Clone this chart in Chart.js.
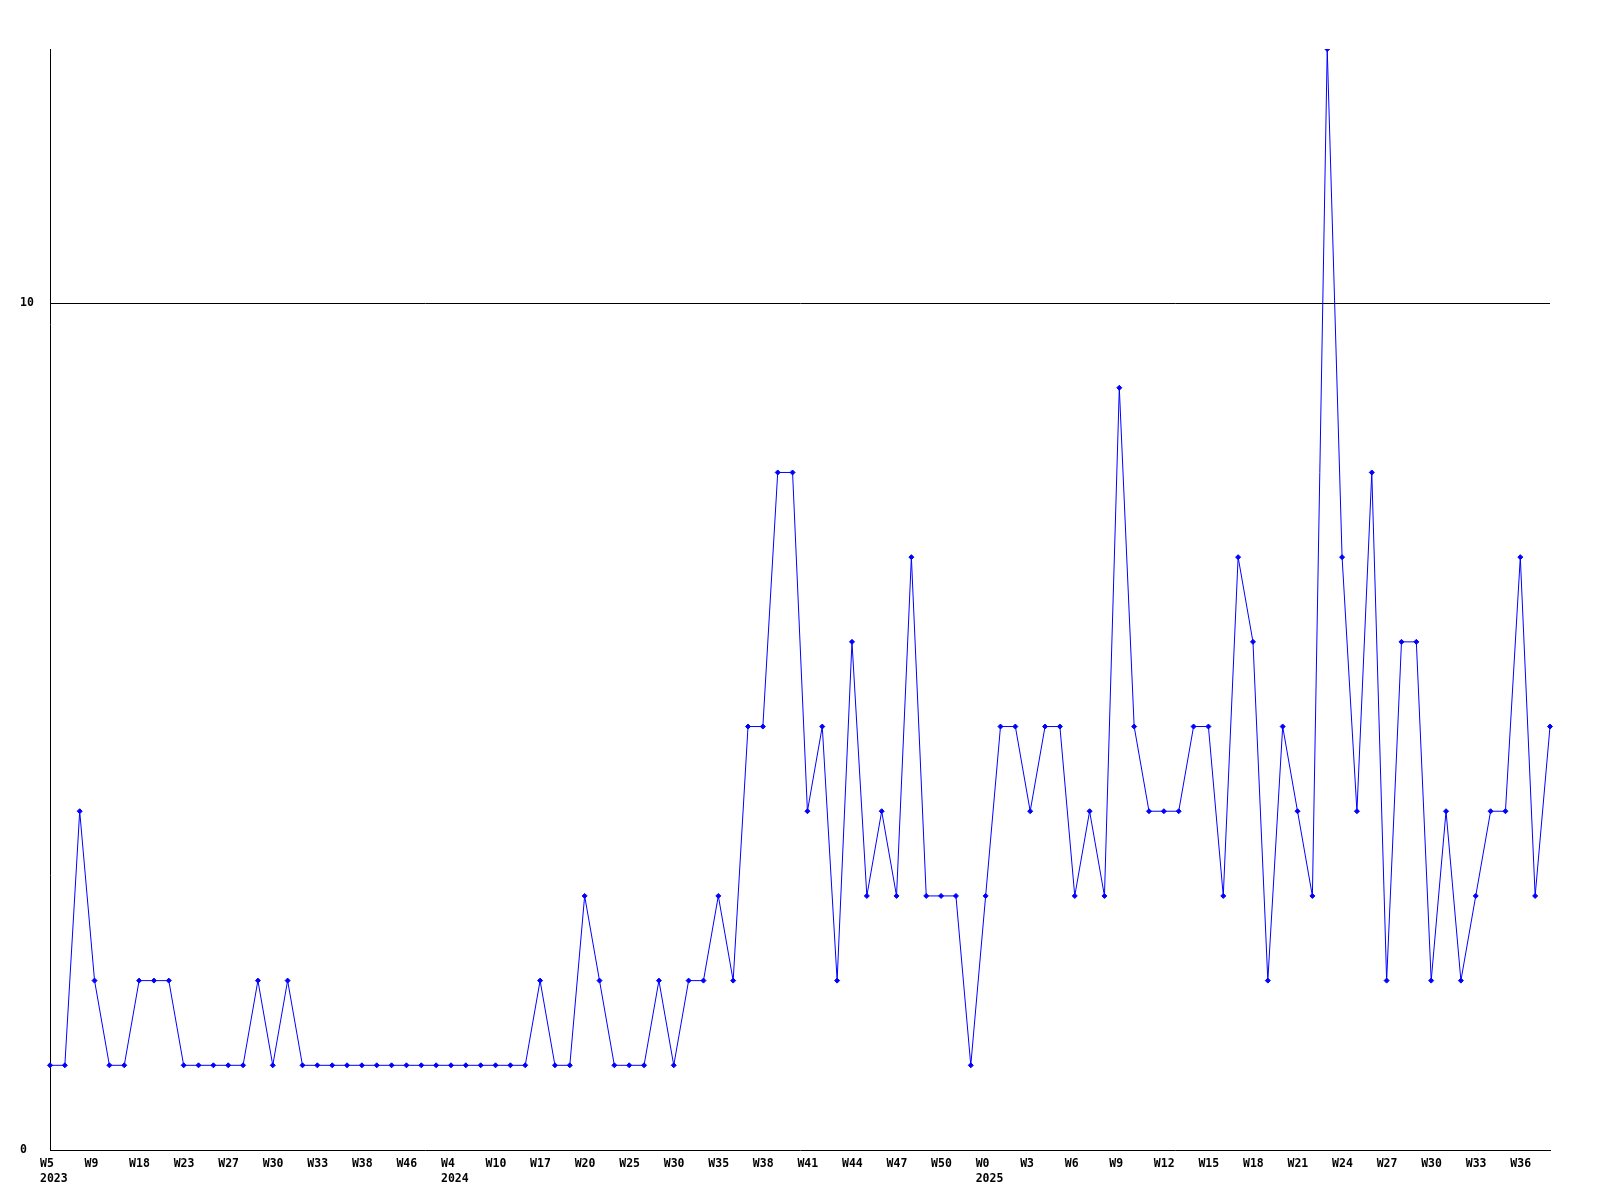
<!DOCTYPE html>
<html>
<head>
<meta charset="utf-8">
<script src="https://cdn.jsdelivr.net/npm/chart.js@4/dist/chart.umd.min.js"></script>
<style>
  html, body { margin: 0; padding: 0; background: #ffffff; }
  #wrap { width: 1600px; height: 1200px; }
</style>
</head>
<body>
<div id="wrap"><canvas id="chart" width="1600" height="1200"></canvas></div>
<script>
/* weekly counts, one value per week point */

const values = [
    1, 1, 4, 2, 1, 1, 2, 2, 2, 1,
    1, 1, 1, 1, 2, 1, 2, 1, 1, 1,
    1, 1, 1, 1, 1, 1, 1, 1, 1, 1,
    1, 1, 1, 2, 1, 1, 3, 2, 1, 1,
    1, 2, 1, 2, 2, 3, 2, 5, 5, 8,
    8, 4, 5, 2, 6, 3, 4, 3, 7, 3,
    3, 3, 1, 3, 5, 5, 4, 5, 5, 3,
    4, 3, 9, 5, 4, 4, 4, 5, 5, 3,
    7, 6, 2, 5, 4, 3, 13, 7, 4, 8,
    2, 6, 6, 2, 4, 2, 3, 4, 4, 7,
    3, 5,
];

// x tick labels, one every 3 points
const weekTicks = [
    'W5', 'W9', 'W18', 'W23', 'W27', 'W30', 'W33', 'W38', 'W46', 'W4',
    'W10', 'W17', 'W20', 'W25', 'W30', 'W35', 'W38', 'W41', 'W44', 'W47',
    'W50', 'W0', 'W3', 'W6', 'W9', 'W12', 'W15', 'W18', 'W21', 'W24',
    'W27', 'W30', 'W33', 'W36',
];
const yearTicks = { 0: '2023', 9: '2024', 21: '2025' };
const TICK_EVERY = 3;

const yTicks = [0, 10];
const Y_MAX = 13;

const FONT = { family: "'DejaVu Sans Mono', 'Liberation Mono', monospace", size: 11.5, weight: 'bold', lineHeight: 1.35 };

const labels = values.map((v, i) => {
    if (i % TICK_EVERY !== 0) return '';
    const k = i / TICK_EVERY;
    const w = weekTicks[k];
    if (w === undefined) return '';
    return yearTicks[k] ? [w, yearTicks[k]] : w;
});

new Chart(document.getElementById('chart'), {
    type: 'line',
    data: {
        labels: labels,
        datasets: [{
            data: values,
            borderColor: '#0000ff',
            backgroundColor: '#0000ff',
            borderWidth: 1,
            tension: 0,
            fill: false,
            pointStyle: 'rectRot',
            pointRadius: 2.5,
            pointBorderWidth: 1,
            pointBackgroundColor: '#0000ff',
            pointBorderColor: '#0000ff',
        }],
    },
    options: {
        responsive: false,
        animation: false,
        layout: { padding: { left: 20, right: 50, top: 49, bottom: 0 } },
        scales: {
            x: {
                type: 'category',
                offset: false,
                grid: { display: false, drawTicks: false },
                border: { display: true, color: '#000000', width: 1 },
                ticks: {
                    autoSkip: false,
                    maxRotation: 0,
                    minRotation: 0,
                    align: 'start',
                    labelOffset: -10,
                    padding: 6,
                    color: '#000000',
                    font: FONT,
                },
                afterFit: s => { s.height = 50; },
            },
            y: {
                min: 0,
                max: Y_MAX,
                grid: {
                    drawTicks: false,
                    color: ctx => ctx.tick && ctx.tick.value === 10 ? '#000000' : 'rgba(0,0,0,0)',
                    lineWidth: 1,
                },
                border: { display: true, color: '#000000', width: 1 },
                ticks: {
                    crossAlign: 'far',
                    padding: 0,
                    color: '#000000',
                    font: FONT,
                },
                afterBuildTicks: s => { s.ticks = yTicks.map(v => ({ value: v })); },
                afterFit: s => { s.width = 30; },
            },
        },
        plugins: {
            legend: { display: false },
            tooltip: { enabled: false },
        },
    },
});
</script>
</body>
</html>
